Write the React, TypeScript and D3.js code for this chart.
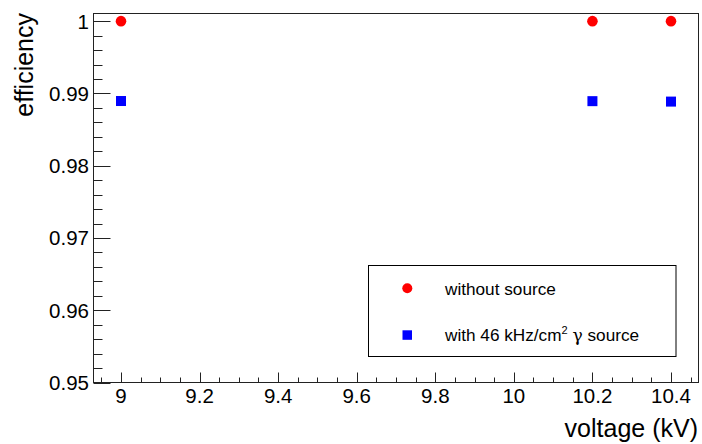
import React from "react";
import * as d3 from "d3";

const voltages = [9, 10.2, 10.4];
const effNoSource = [1.0, 1.0, 1.0];
const effWithSource = [0.98895, 0.98893, 0.98887];

const xMajor = [9, 9.2, 9.4, 9.6, 9.8, 10, 10.2, 10.4];
const yMajor = [0.95, 0.96, 0.97, 0.98, 0.99, 1];

const W = 702;
const H = 444;
const frame = { left: 93.5, top: 13.5, right: 698.5, bottom: 382.5 };
const font = "'Liberation Sans', Arial, Helvetica, sans-serif";

export default function App() {
  const x = d3.scaleLinear().domain([8.93, 10.47]).range([frame.left, frame.right]);
  const y = d3.scaleLinear().domain([0.95, 1.00106]).range([frame.bottom, frame.top]);

  const xMinor = d3.range(8.95, 10.4501, 0.05).filter(
    (v) => !xMajor.some((m) => Math.abs(m - v) < 1e-6)
  );
  const yMinor = d3.range(0.95, 1.0001, 0.002).filter(
    (v) => !yMajor.some((m) => Math.abs(m - v) < 1e-6)
  );

  return (
    <svg
      width={W}
      height={H}
      style={{ position: "absolute", left: 0, top: 0, background: "#fff" }}
      fontFamily={font}
    >
      <rect x={0} y={0} width={W} height={H} fill="#fff" />

      {/* y ticks */}
      {yMajor.map((v) => (
        <line key={"ym" + v} x1={frame.left} x2={frame.left + 17} y1={Math.round(y(v)) + 0.5} y2={Math.round(y(v)) + 0.5} stroke="#222" />
      ))}
      {yMinor.map((v) => (
        <line key={"yn" + v} x1={frame.left} x2={frame.left + 9} y1={Math.round(y(v)) + 0.5} y2={Math.round(y(v)) + 0.5} stroke="#222" />
      ))}
      {yMajor.map((v) => (
        <text key={"yl" + v} x={89} y={y(v)} dy="0.36em" textAnchor="end" fontSize={20.5} fill="#000">
          {d3.format("~g")(v)}
        </text>
      ))}

      {/* x ticks */}
      {xMajor.map((v) => (
        <line key={"xm" + v} x1={Math.round(x(v)) + 0.5} x2={Math.round(x(v)) + 0.5} y1={frame.bottom} y2={frame.bottom - 10} stroke="#222" />
      ))}
      {xMinor.map((v) => (
        <line key={"xn" + v} x1={Math.round(x(v)) + 0.5} x2={Math.round(x(v)) + 0.5} y1={frame.bottom} y2={frame.bottom - 5} stroke="#222" />
      ))}
      {xMajor.map((v) => (
        <text key={"xl" + v} x={x(v)} y={403} textAnchor="middle" fontSize={20.5} fill="#000">
          {d3.format("~g")(v)}
        </text>
      ))}

      {/* frame */}
      <rect
        x={frame.left}
        y={frame.top}
        width={frame.right - frame.left}
        height={frame.bottom - frame.top}
        fill="none"
        stroke="#222"
        strokeWidth={1}
      />

      {/* axis titles */}
      <text x={698} y={437} textAnchor="end" fontSize={25} fill="#000">
        voltage (kV)
      </text>
      <text
        transform={`translate(33,13) rotate(-90)`}
        textAnchor="end"
        fontSize={25}
        fill="#000"
      >
        efficiency
      </text>

      {/* data */}
      {voltages.map((v, i) => (
        <circle key={"c" + i} cx={x(v)} cy={y(effNoSource[i])} r={5.3} fill="#ff0000" />
      ))}
      {voltages.map((v, i) => (
        <rect key={"s" + i} x={x(v) - 5} y={y(effWithSource[i]) - 5} width={10} height={10} fill="#0000ff" />
      ))}

      {/* legend */}
      <rect x={368.5} y={265.5} width={307.5} height={91} fill="#fff" stroke="#000" strokeWidth={1} />
      <circle cx={407.3} cy={288.3} r={5} fill="#ff0000" />
      <rect x={402.5} y={330.3} width={9.5} height={9.5} fill="#0000ff" />
      <text x={445} y={294.5} fontSize={17.2} fill="#000">
        without source
      </text>
      <text x={445} y={341} fontSize={17.2} fill="#000">
        with 46 kHz/cm
        <tspan dy={-7} fontSize={11}>2</tspan>
        <tspan dy={7}> </tspan>
        <tspan fontFamily="'DejaVu Serif', serif">γ</tspan>
        <tspan> source</tspan>
      </text>
    </svg>
  );
}
